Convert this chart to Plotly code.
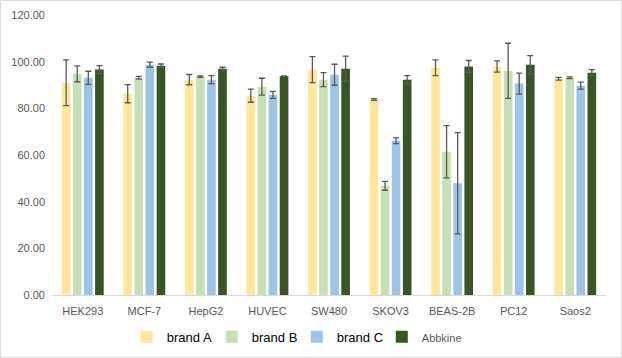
import plotly.graph_objects as go

categories = ["HEK293", "MCF-7", "HepG2", "HUVEC", "SW480", "SKOV3", "BEAS-2B", "PC12", "Saos2"]

brand_a = [91.0, 86.3, 92.3, 85.4, 96.6, 83.8, 97.4, 97.9, 92.7]
brand_a_err = [9.8, 3.9, 2.2, 2.8, 5.6, 0.4, 3.4, 2.4, 0.6]
brand_b = [94.8, 93.1, 93.6, 89.3, 92.3, 46.8, 61.4, 96.1, 93.1]
brand_b_err = [3.4, 0.6, 0.3, 3.6, 3.0, 1.9, 11.2, 11.8, 0.4]
brand_c = [93.1, 98.7, 92.3, 85.8, 94.4, 66.1, 47.9, 90.6, 89.7]
brand_c_err = [2.8, 1.1, 1.7, 1.5, 4.5, 1.2, 21.7, 4.5, 1.5]
abbkine = [96.6, 98.3, 97.0, 93.8, 97.0, 92.3, 97.9, 98.7, 95.3]
abbkine_err = [1.7, 0.7, 0.6, 0.1, 5.4, 1.7, 2.6, 3.9, 1.3]

series = [
    ("brand A", brand_a, brand_a_err, "#FFE699"),
    ("brand B", brand_b, brand_b_err, "#C5E0B4"),
    ("brand C", brand_c, brand_c_err, "#9DC3E6"),
    ('<span style="font-size:11px;color:#595959">Abbkine</span>', abbkine, abbkine_err, "#375623"),
]

fig = go.Figure()
for name, vals, errs, color in series:
    fig.add_trace(go.Bar(
        x=categories, y=vals, name=name,
        marker=dict(color=color, line=dict(width=0)),
        error_y=dict(type="data", array=errs, visible=True,
                     color="#595959", thickness=1.3, width=3),
    ))

fig.update_layout(
    width=622, height=358,
    margin=dict(l=52, r=16, t=15, b=63, autoexpand=False),
    paper_bgcolor="white", plot_bgcolor="white",
    barmode="group", bargap=0.28, bargroupgap=0.22,
    font=dict(family="Liberation Sans, Arial, sans-serif", size=11, color="#595959"),
    xaxis=dict(showline=True, linecolor="#D9D9D9", linewidth=1, ticks="",
               ticklabelstandoff=6,
               tickfont=dict(size=11, color="#595959"), showgrid=False),
    yaxis=dict(range=[0, 120], dtick=20, tickformat=".2f", showgrid=False,
               zeroline=False, showline=False, ticks="", ticklabelstandoff=6,
               tickfont=dict(size=11, color="#595959")),
    legend=dict(orientation="h", x=0.135, xanchor="left", y=-0.149, yanchor="middle",
                font=dict(size=13, color="#000000"), itemwidth=30,
                entrywidth=40, entrywidthmode="pixels",
                traceorder="normal"),
    shapes=[dict(type="rect", xref="paper", yref="paper",
                 x0=(0.5 - 52) / 554, x1=(621.5 - 52) / 554,
                 y0=(295 - 357.5) / 280, y1=(295 - 0.5) / 280,
                 line=dict(color="#D9D9D9", width=1), fillcolor="rgba(0,0,0,0)")],
)

fig.write_html("out.html", config={"displayModeBar": False},
               post_script="document.body.style.margin='0';")
